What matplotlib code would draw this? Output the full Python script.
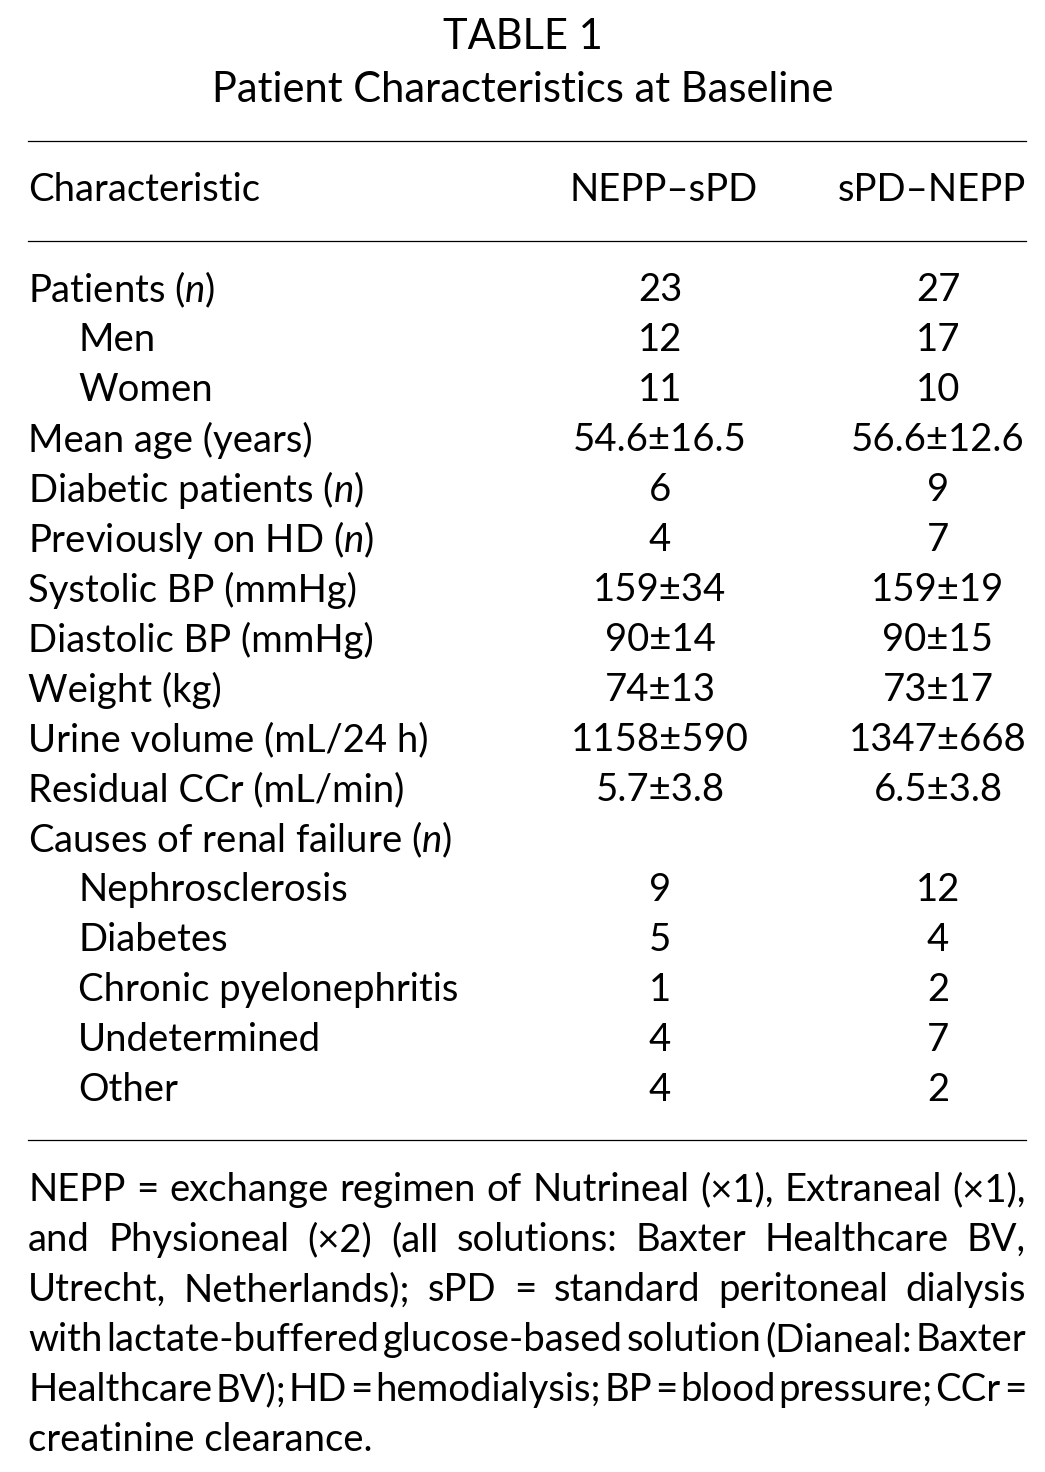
import matplotlib
matplotlib.use("Agg")
import matplotlib.pyplot as plt

plt.rcParams['font.family'] = ['Lato', 'DejaVu Sans']
plt.rcParams.update({'mathtext.fontset': 'custom', 'mathtext.it': 'Lato:italic',
                     'mathtext.rm': 'Lato'})

"""
Table 1: patient characteristics at baseline, drawn as text on a blank canvas.
"""

title = "TABLE 1"
subtitle = "Patient Characteristics at Baseline"
headers = ["Characteristic", "NEPP\u2013sPD", "sPD\u2013NEPP"]

row_labels = [
    "Patients ($\\it{n}$)", "Men", "Women", "Mean age (years)",
    "Diabetic patients ($\\it{n}$)", "Previously on HD ($\\it{n}$)",
    "Systolic BP (mmHg)", "Diastolic BP (mmHg)", "Weight (kg)",
    "Urine volume (mL/24 h)", "Residual CCr (mL/min)",
    "Causes of renal failure ($\\it{n}$)", "Nephrosclerosis", "Diabetes",
    "Chronic pyelonephritis", "Undetermined", "Other",
]
row_indent = [0, 1, 1, 0, 0, 0, 0, 0, 0, 0, 0, 0, 1, 1, 1, 1, 1]
nepp_spd = ["23", "12", "11", "54.6\u00b116.5", "6", "4", "159\u00b134", "90\u00b114",
            "74\u00b113", "1158\u00b1590", "5.7\u00b13.8", "", "9", "5", "1", "4", "4"]
spd_nepp = ["27", "17", "10", "56.6\u00b112.6", "9", "7", "159\u00b119", "90\u00b115",
            "73\u00b117", "1347\u00b1668", "6.5\u00b13.8", "", "12", "4", "2", "7", "2"]

footnote = [
    "NEPP = exchange regimen of Nutrineal (\u00d71), Extraneal (\u00d71),",
    "and Physioneal (\u00d72) (all solutions: Baxter Healthcare BV,",
    "Utrecht, Netherlands); sPD = standard peritoneal dialysis",
    "with lactate-buffered glucose-based solution (Dianeal: Baxter",
    "Healthcare BV); HD = hemodialysis; BP = blood pressure; CCr =",
    "creatinine clearance.",
]

W, H = 1045, 1472
fig = plt.figure(figsize=(W / 100, H / 100), dpi=100)
ax = fig.add_axes([0, 0, 1, 1])
ax.set_xlim(0, W)
ax.set_ylim(H, 0)
ax.axis('off')

fs = 27.5
fs_title = 30
left, right = 28, 1026
col1, col2 = 660, 938

ax.text(W / 2, 37, title, ha='center', va='center', fontsize=fs_title)
ax.text(W / 2, 90, subtitle, ha='center', va='center', fontsize=fs_title)

for y in (141, 241, 1140):
    ax.plot([left, right], [y, y], color='black', lw=0.9)

ax.text(left, 190, headers[0], ha='left', va='center', fontsize=fs)
ax.text(664, 190, headers[1], ha='center', va='center', fontsize=fs)
ax.text(right, 190, headers[2], ha='right', va='center', fontsize=fs)

for i, lab in enumerate(row_labels):
    y = 290 + 50 * i
    ax.text(left + 50 * row_indent[i], y, lab, ha='left', va='center', fontsize=fs)
    ax.text(col1, y, nepp_spd[i], ha='center', va='center', fontsize=fs)
    ax.text(col2, y, spd_nepp[i], ha='center', va='center', fontsize=fs)

# footnote, justified like the printed page
renderer = fig.canvas.get_renderer()
for k, line in enumerate(footnote):
    y = 1190 + 50 * k
    if k == len(footnote) - 1:
        ax.text(left, y, line, ha='left', va='center', fontsize=fs)
        continue
    words = line.split(' ')
    widths = []
    for w in words:
        t = ax.text(0, y, w, fontsize=fs, va='center')
        widths.append(t.get_window_extent(renderer).width)
        t.remove()
    gap = (right - left - sum(widths)) / (len(words) - 1)
    x = left
    for w, wd in zip(words, widths):
        ax.text(x, y, w, ha='left', va='center', fontsize=fs)
        x += wd + gap

fig.savefig('out.png', dpi=100, facecolor='white')
